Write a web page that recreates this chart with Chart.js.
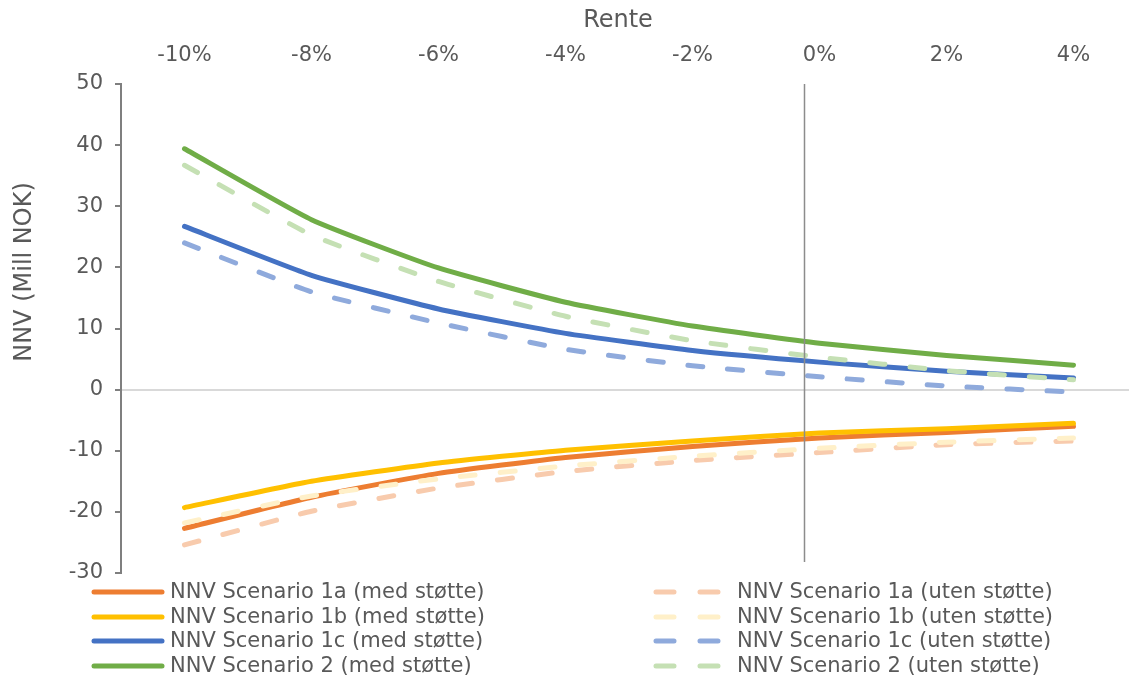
<!DOCTYPE html>
<html>
<head>
<meta charset="utf-8">
<script src="https://cdn.jsdelivr.net/npm/chart.js@4/dist/chart.umd.min.js"></script>
<style>
  html, body { margin: 0; padding: 0; background: #fff; width: 1129px; height: 684px; overflow: hidden; }
  canvas { display: block; }
</style>
</head>
<body>
<canvas id="nnv" width="1140" height="684" style="width:1140px;height:684px"></canvas>
<script>
// Interest-rate steps (category axis)
const renteLabels = ['-10%', '-8%', '-6%', '-4%', '-2%', '0%', '2%', '4%'];

// NNV (Mill NOK) per scenario, with support
const s1aMed = [-22.7, -17.6, -13.7, -11.1, -9.3, -7.9, -7.0, -6.0];
const s1bMed = [-19.3, -15.0, -12.0, -9.9, -8.4, -7.1, -6.4, -5.5];
const s1cMed = [26.7, 18.7, 13.2, 9.2, 6.4, 4.5, 3.0, 1.9];
const s2Med  = [39.4, 27.8, 19.9, 14.3, 10.4, 7.6, 5.6, 4.0];

// NNV (Mill NOK) per scenario, without support
const s1aUten = [-25.4, -19.9, -16.1, -13.4, -11.6, -10.3, -9.0, -8.4];
const s1bUten = [-21.8, -17.4, -14.6, -12.5, -10.9, -9.6, -8.6, -7.9];
const s1cUten = [24.0, 16.0, 10.9, 6.6, 3.9, 2.1, 0.6, -0.4];
const s2Uten  = [36.7, 25.3, 17.7, 12.0, 8.0, 5.3, 3.1, 1.6];

// Y axis range
const yMin = -30, yMax = 50, yStep = 10;

const FONT = "'DejaVu Sans', sans-serif";
const TEXT = '#595959';
const DASH = [15, 25];

const seriesDefs = [
  { label: 'NNV Scenario 1a (med støtte)',  data: s1aMed,  color: '#ED7D31', dashed: false },
  { label: 'NNV Scenario 1b (med støtte)',  data: s1bMed,  color: '#FFC000', dashed: false },
  { label: 'NNV Scenario 1c (med støtte)',  data: s1cMed,  color: '#4472C4', dashed: false },
  { label: 'NNV Scenario 2 (med støtte)',   data: s2Med,   color: '#70AD47', dashed: false },
  { label: 'NNV Scenario 1a (uten støtte)', data: s1aUten, color: '#F8CBAD', dashed: true },
  { label: 'NNV Scenario 1b (uten støtte)', data: s1bUten, color: '#FFF0C9', dashed: true },
  { label: 'NNV Scenario 1c (uten støtte)', data: s1cUten, color: '#8FAADC', dashed: true },
  { label: 'NNV Scenario 2 (uten støtte)',  data: s2Uten,  color: '#C5E0B4', dashed: true }
];

const datasets = seriesDefs.map((s, i) => ({
  label: s.label,
  data: s.data,
  borderColor: s.color,
  backgroundColor: s.color,
  borderDash: s.dashed ? DASH : [],
  borderWidth: 5,
  borderCapStyle: 'round',
  borderJoinStyle: 'round',
  pointRadius: 0,
  tension: 0.15,
  fill: false,
  order: seriesDefs.length - 1 - i   // later series are painted on top
}));

// Vertical marker line (category-index position, value span)
const markerAt = 4.88, markerFrom = 50, markerTo = -28.2;

const markerLine = {
  id: 'markerLine',
  afterDatasetsDraw(chart) {
    const { ctx, scales: { x, y } } = chart;
    const px = Math.round(x.getPixelForValue(markerAt)) + 0.5;
    ctx.save();
    ctx.strokeStyle = '#8C8C8C';
    ctx.lineWidth = 1.5;
    ctx.beginPath();
    ctx.moveTo(px, y.getPixelForValue(markerFrom));
    ctx.lineTo(px, y.getPixelForValue(markerTo));
    ctx.stroke();
    ctx.restore();
  }
};

// Axis titles
const axisTitles = {
  id: 'axisTitles',
  afterDraw(chart) {
    const { ctx } = chart;
    ctx.save();
    ctx.fillStyle = TEXT;
    ctx.font = "24px " + FONT;
    ctx.textAlign = 'center';
    ctx.textBaseline = 'middle';
    ctx.fillText('Rente', 618, 21);
    ctx.translate(25, 272);
    ctx.rotate(-Math.PI / 2);
    ctx.fillText('NNV (Mill NOK)', 0, 0);
    ctx.restore();
  }
};

// Two-column legend below the plot
const gridLegend = {
  id: 'gridLegend',
  afterDraw(chart) {
    const { ctx } = chart;
    const rows = [592, 617, 641, 666];
    const cols = [
      { x0: 94, x1: 162, tx: 170 },
      { x0: 656, x1: 722, tx: 737 }
    ];
    ctx.save();
    ctx.font = "21px " + FONT;
    ctx.textBaseline = 'middle';
    ctx.textAlign = 'left';
    chart.data.datasets.forEach((ds, i) => {
      const col = cols[Math.floor(i / 4)];
      const y = rows[i % 4];
      ctx.strokeStyle = ds.borderColor;
      ctx.lineWidth = 5;
      ctx.lineCap = 'round';
      ctx.setLineDash(ds.borderDash.length ? [18, 26] : []);
      ctx.beginPath();
      ctx.moveTo(col.x0, y);
      ctx.lineTo(col.x1, y);
      ctx.stroke();
      ctx.setLineDash([]);
      ctx.fillStyle = TEXT;
      ctx.fillText(ds.label, col.tx, y + 1);
    });
    ctx.restore();
  }
};

new Chart(document.getElementById('nnv'), {
  type: 'line',
  data: { labels: renteLabels, datasets },
  plugins: [markerLine, axisTitles, gridLegend],
  options: {
    responsive: false,
    animation: false,
    devicePixelRatio: 1,
    layout: { padding: { left: 0, right: 3, top: 0, bottom: 111 } },
    plugins: { legend: { display: false }, tooltip: { enabled: false } },
    scales: {
      x: {
        position: 'top',
        offset: true,
        grid: { display: false, drawTicks: false },
        border: { display: false },
        ticks: { color: TEXT, font: { family: FONT, size: 21 }, padding: 16, maxRotation: 0, autoSkip: false },
        afterFit(scale) { scale.height = 84; }
      },
      y: {
        min: yMin,
        max: yMax,
        ticks: { stepSize: yStep, color: TEXT, font: { family: FONT, size: 21 }, padding: 12 },
        grid: {
          color: (c) => (c.tick && c.tick.value === 0 ? '#D9D9D9' : 'rgba(0,0,0,0)'),
          lineWidth: 2,
          tickLength: 6,
          tickColor: '#7F7F7F',
          tickWidth: 2
        },
        border: { color: '#7F7F7F', width: 2 },
        afterFit(scale) { scale.width = 121; }
      }
    }
  }
});
</script>
</body>
</html>
